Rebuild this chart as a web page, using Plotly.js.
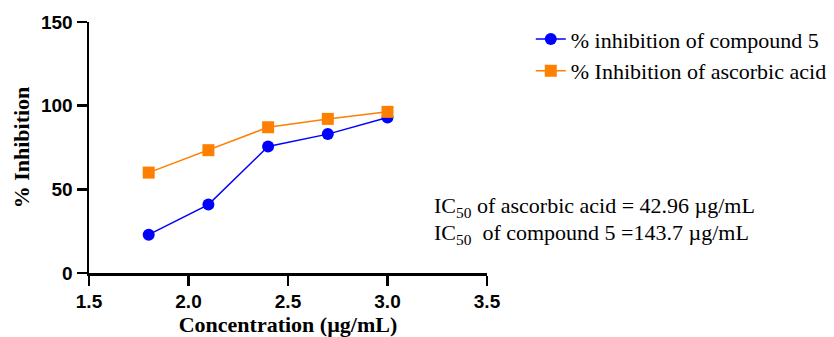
<!DOCTYPE html>
<html>
<head>
<meta charset="utf-8">
<script src="https://cdn.plot.ly/plotly-3.0.1.min.js"></script>
<style>html,body{margin:0;padding:0;background:#fff;}#chart{width:834px;height:337px;}</style>
</head>
<body>
<div id="chart"></div>
<script>
const concentration = [1.8, 2.1, 2.4, 2.7, 3.0];
const compound5 = [22.9, 40.9, 75.6, 83.0, 92.9];
const ascorbicAcid = [60.0, 73.4, 87.1, 92.1, 96.3];
const xTicks = [1.5, 2.0, 2.5, 3.0, 3.5];
const yTicks = [0, 50, 100, 150];
const seriesNames = ['% inhibition of compound 5', '% Inhibition of ascorbic acid'];
const icLines = ['IC<sub>50</sub> of ascorbic acid = 42.96 µg/mL', 'IC<sub>50</sub>  of compound 5 =143.7 µg/mL'];

const serif = 'Liberation Serif, Times New Roman, serif';
const sans = 'Liberation Sans, Arial, sans-serif';

const traces = [
  {x: concentration, y: compound5, name: seriesNames[0], mode: 'lines+markers',
   line: {color: '#0000FF', width: 1.5}, marker: {symbol: 'circle', size: 12, color: '#0000FF'}},
  {x: concentration, y: ascorbicAcid, name: seriesNames[1], mode: 'lines+markers',
   line: {color: '#FF7F00', width: 1.5}, marker: {symbol: 'square', size: 12, color: '#FF7F00'}}
];

const layout = {
  width: 834, height: 337,
  margin: {l: 89, r: 347, t: 22, b: 64, pad: 0, autoexpand: false},
  paper_bgcolor: '#fff', plot_bgcolor: '#fff',
  showlegend: true,
  legend: {x: 1.11, xanchor: 'left', y: 1.015, yanchor: 'top', font: {family: serif, size: 22, color: '#000'},
           bgcolor: 'rgba(0,0,0,0)', tracegroupgap: 0, itemwidth: 30},
  xaxis: {range: [1.5, 3.5], tickvals: xTicks, ticktext: xTicks.map(v => v.toFixed(1)),
          showgrid: false, zeroline: false, showline: true, linecolor: '#000', linewidth: 2.5,
          ticks: 'outside', ticklen: 10, tickwidth: 2.5, tickcolor: '#000',
          tickfont: {family: sans, size: 19, color: '#000', weight: 'bold'},
          title: {text: 'Concentration (µg/mL)', font: {family: serif, size: 22, color: '#000', weight: 'bold'}, standoff: 10}},
  yaxis: {range: [0, 150], tickvals: yTicks, showgrid: false, zeroline: false, showline: true,
          linecolor: '#000', linewidth: 2.5, ticks: 'outside', ticklen: 10, tickwidth: 2.5, tickcolor: '#000',
          tickfont: {family: sans, size: 19, color: '#000', weight: 'bold'},
          title: {text: '% Inhibition', font: {family: serif, size: 22, color: '#000', weight: 'bold'}, standoff: 6}},
  annotations: [
    {text: icLines[0], xref: 'paper', yref: 'paper', x: 0.862, y: 0.263, xanchor: 'left', yanchor: 'middle',
     showarrow: false, font: {family: serif, size: 22, color: '#000'}},
    {text: icLines[1], xref: 'paper', yref: 'paper', x: 0.862, y: 0.157, xanchor: 'left', yanchor: 'middle',
     showarrow: false, font: {family: serif, size: 22, color: '#000'}}
  ]
};

Plotly.newPlot('chart', traces, layout, {displayModeBar: false, staticPlot: true});
</script>
</body>
</html>
